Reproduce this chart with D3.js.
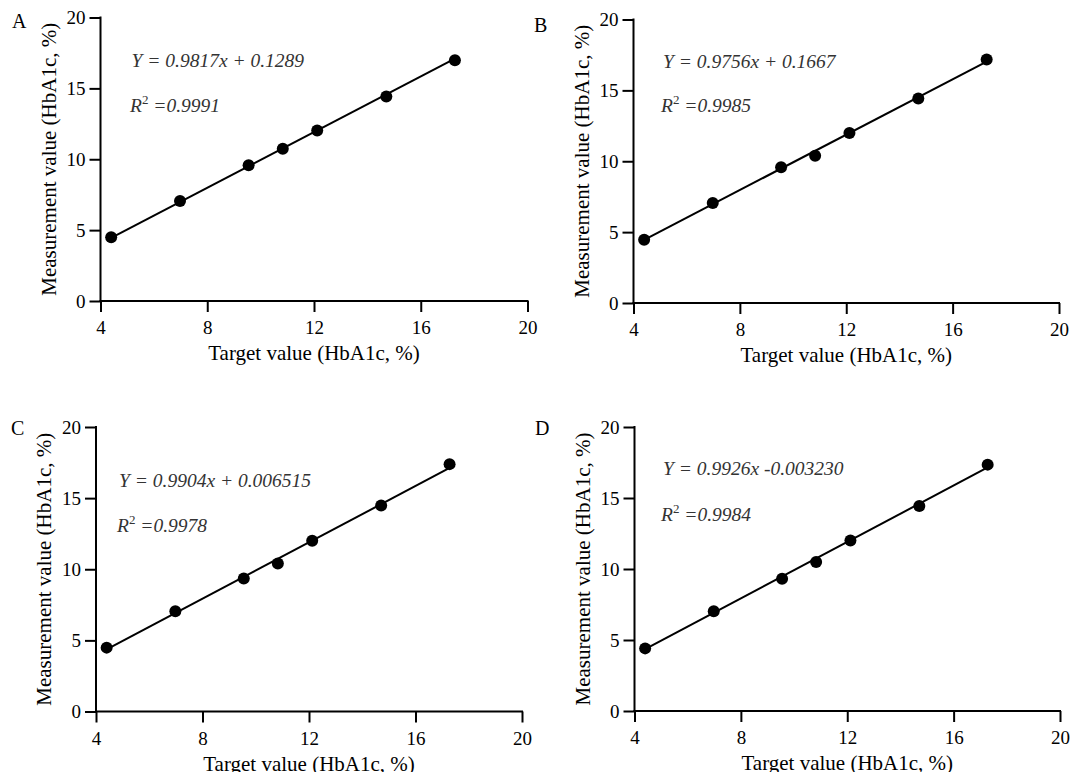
<!DOCTYPE html>
<html>
<head>
<meta charset="utf-8">
<script src="https://cdn.jsdelivr.net/npm/d3@7"></script>
<style>
  html, body { margin: 0; padding: 0; background: #fff; }
  svg { display: block; }
</style>
</head>
<body>
<svg id="chart" width="1071" height="772"></svg>
<script>
// ---- data ----
const panelLetters = ["A", "B", "C", "D"];
const targets = [4.40, 6.98, 9.55, 10.83, 12.12, 14.71, 17.28];
const measuredA = [4.49, 7.05, 9.57, 10.74, 12.03, 14.43, 16.99];
const measuredB = [4.47, 7.05, 9.57, 10.39, 11.99, 14.43, 17.18];
const measuredC = [4.49, 7.05, 9.35, 10.41, 12.01, 14.48, 17.39];
const measuredD = [4.41, 7.02, 9.32, 10.49, 12.00, 14.44, 17.35];
const slopes = [0.9817, 0.9756, 0.9904, 0.9926];
const intercepts = [0.1289, 0.1667, 0.006515, -0.003230];
const eqLabels = ["Y = 0.9817x + 0.1289", "Y = 0.9756x + 0.1667", "Y = 0.9904x + 0.006515", "Y = 0.9926x -0.003230"];
const r2Values = ["0.9991", "0.9985", "0.9978", "0.9984"];
const xTicks = [4, 8, 12, 16, 20];
const yTicks = [0, 5, 10, 15, 20];
const xTitle = "Target value (HbA1c, %)";
const yTitle = "Measurement value (HbA1c, %)";

const measured = [measuredA, measuredB, measuredC, measuredD];
const SERIF = '"Liberation Serif", "Times New Roman", serif';

// ---- layout ----
const layout = [
  { x0: 100.5, x1: 527.5, yTop: 17.5, yBot: 301, letter: [12, 28], eq: [131.5, 67], r2: [130, 112] },
  { x0: 633.5, x1: 1059, yTop: 19.5, yBot: 303, letter: [534, 32], eq: [663, 68], r2: [661, 112] },
  { x0: 96, x1: 522, yTop: 427, yBot: 711.5, letter: [11, 435], eq: [119, 487], r2: [117, 532] },
  { x0: 634.5, x1: 1060, yTop: 427, yBot: 711, letter: [535, 435], eq: [663, 475], r2: [661, 521] }
];

const svg = d3.select("#chart");

layout.forEach((L, i) => {
  const x = d3.scaleLinear().domain([4, 20]).range([L.x0, L.x1]);
  const y = d3.scaleLinear().domain([0, 20]).range([L.yBot, L.yTop]);
  const g = svg.append("g");

  const xAxis = d3.axisBottom(x).tickValues(xTicks).tickSize(11).tickPadding(9).tickSizeOuter(0);
  const yAxis = d3.axisLeft(y).tickValues(yTicks).tickSize(11).tickPadding(4).tickSizeOuter(0);

  const gx = g.append("g").attr("transform", `translate(0,${L.yBot})`).call(xAxis);
  const gy = g.append("g").attr("transform", `translate(${L.x0},0)`).call(yAxis);
  [gx, gy].forEach(a => {
    a.attr("font-family", null).attr("font-size", null);
    a.select(".domain").attr("stroke", "#000").attr("stroke-width", 2);
    a.selectAll(".tick line").attr("stroke", "#000").attr("stroke-width", 2);
    a.selectAll(".tick text").attr("fill", "#000")
      .style("font-size", "19px")
      .style("font-family", SERIF);
  });
  gx.select(".domain").attr("d", `M${L.x0 - 1},0H${L.x1 + 1}`);
  gy.select(".domain").attr("d", `M0,${L.yBot + 1}V${L.yTop - 1}`);

  // axis titles
  g.append("text")
    .attr("x", (L.x0 + L.x1) / 2)
    .attr("y", L.yBot + 59)
    .attr("text-anchor", "middle")
    .style("font-family", SERIF)
    .style("font-size", "21px")
    .attr("fill", "#000")
    .text(xTitle);

  g.append("text")
    .attr("transform", `translate(${L.x0 - 45},${(L.yTop + L.yBot) / 2}) rotate(-90)`)
    .attr("text-anchor", "middle")
    .style("font-family", SERIF)
    .style("font-size", "21px")
    .attr("fill", "#000")
    .text(yTitle);

  // regression line
  const xs = d3.extent(targets);
  const lineData = xs.map(v => [v, slopes[i] * v + intercepts[i]]);
  g.append("path")
    .datum(lineData)
    .attr("fill", "none")
    .attr("stroke", "#000")
    .attr("stroke-width", 2)
    .attr("d", d3.line().x(d => x(d[0])).y(d => y(d[1])));

  // points
  g.selectAll("circle")
    .data(targets.map((t, k) => [t, measured[i][k]]))
    .join("circle")
    .attr("cx", d => x(d[0]))
    .attr("cy", d => y(d[1]))
    .attr("r", 6)
    .attr("fill", "#000");

  // panel letter
  g.append("text")
    .attr("x", L.letter[0])
    .attr("y", L.letter[1])
    .style("font-family", SERIF)
    .style("font-size", "20px")
    .attr("fill", "#000")
    .text(panelLetters[i]);

  // equation
  g.append("text")
    .attr("x", L.eq[0])
    .attr("y", L.eq[1])
    .style("font-family", SERIF)
    .style("font-size", "19.5px")
    .style("font-style", "italic")
    .attr("fill", "#333")
    .text(eqLabels[i]);

  const r2 = g.append("text")
    .attr("x", L.r2[0])
    .attr("y", L.r2[1])
    .style("font-family", SERIF)
    .style("font-size", "19.5px")
    .style("font-style", "italic")
    .attr("fill", "#333");
  r2.append("tspan").text("R");
  r2.append("tspan").attr("dy", -8).style("font-size", "13px").style("font-style", "normal").text("2");
  r2.append("tspan").attr("dy", 8).text(" =" + r2Values[i]);
});
</script>
</body>
</html>
